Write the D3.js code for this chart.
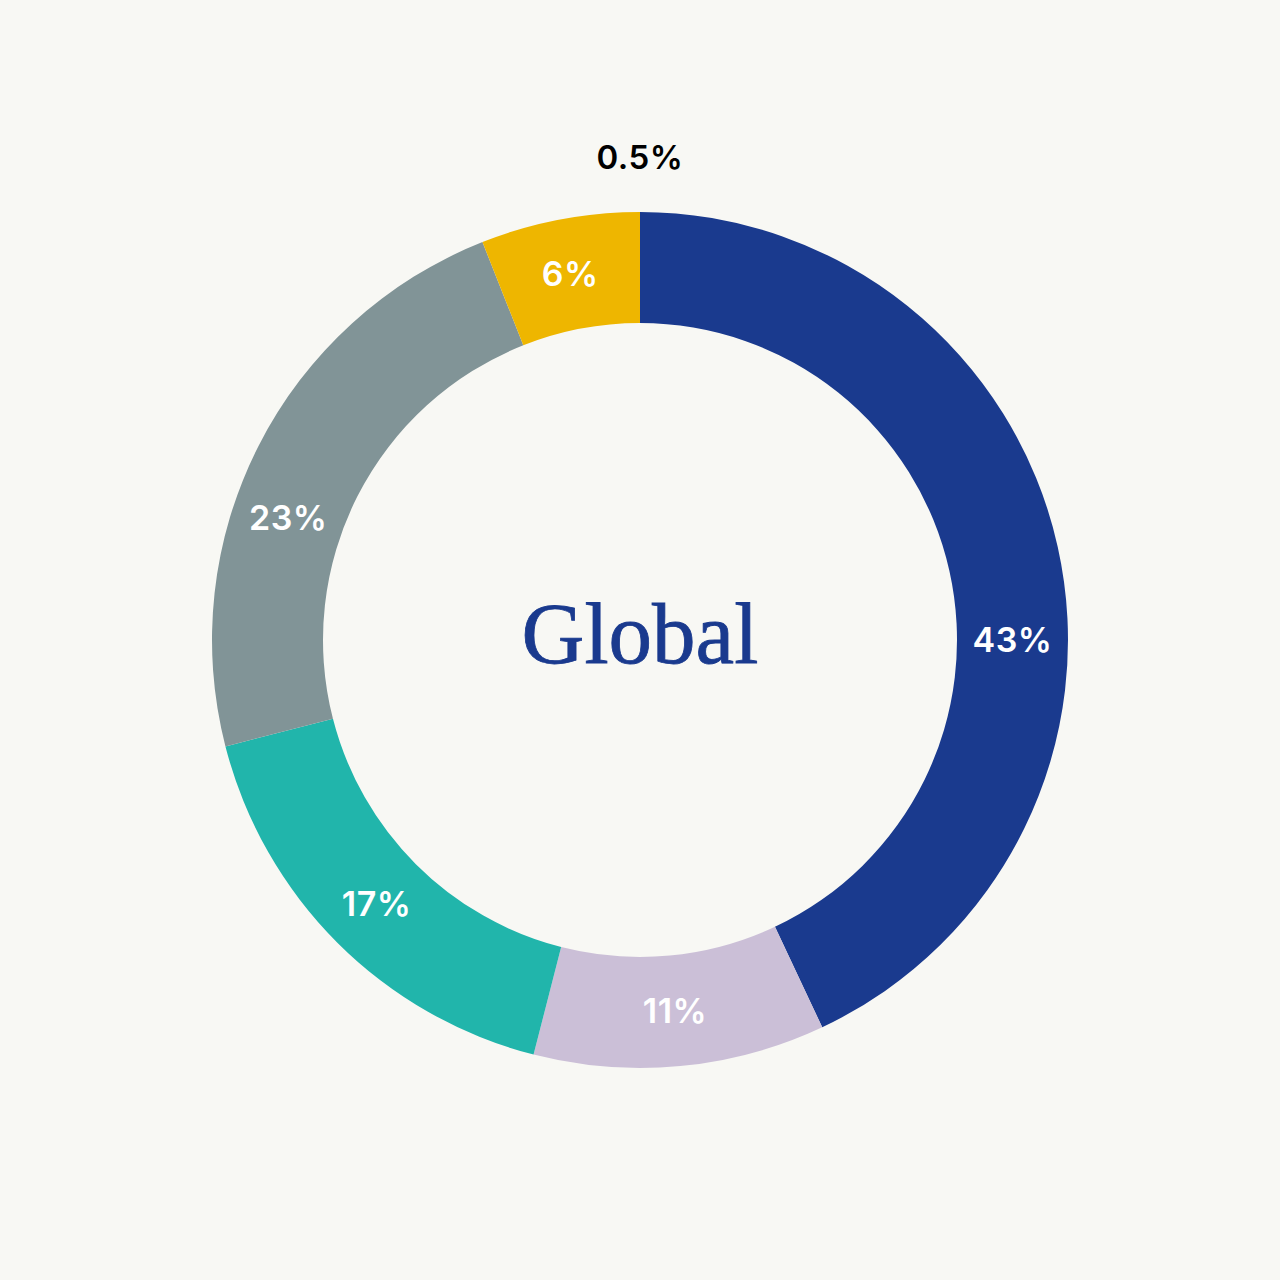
<!DOCTYPE html>
<html>
<head>
<meta charset="utf-8">
<script src="https://cdn.jsdelivr.net/npm/d3@7"></script>
<style>
  html, body { margin: 0; padding: 0; background: #f8f8f4; }
  #chart { width: 1280px; height: 1280px; }
</style>
</head>
<body>
<div id="chart"></div>
<script>
// slices clockwise from 12 o'clock
const segments = ["s1", "s2", "s3", "s4", "s5", "s6"];
const shares = [43, 11, 17, 23, 6, 0.5];
const shareLabels = ["43%", "11%", "17%", "23%", "6%", "0.5%"];
const segmentColors = ["#1a3a8e", "#cbbfd7", "#21b5ab", "#819497", "#eeb600", "#000000"];
const centerTitle = "Global";

const width = 1280,
  height = 1280,
  cx = 640,
  cy = 640,
  outer = 428,
  inner = 317;

const labelFont = "Inter, 'Liberation Sans', Arial, sans-serif";

const svg = d3
  .select("#chart")
  .append("svg")
  .attr("width", width)
  .attr("height", height);

svg.append("rect").attr("width", width).attr("height", height).attr("fill", "#f8f8f4");

const g = svg.append("g").attr("transform", `translate(${cx}, ${cy})`);

const data = segments.map((s, i) => ({
  key: s,
  value: shares[i],
  label: shareLabels[i],
  color: segmentColors[i]
}));

// slivers under 1% are too thin to draw, they only get an outside label
const pie = d3
  .pie()
  .sort(null)
  .value(d => (d.value < 1 ? 0 : d.value));

const arc = d3.arc().innerRadius(inner).outerRadius(outer);
const arcs = pie(data);

g.selectAll("path")
  .data(arcs.filter(d => d.endAngle > d.startAngle))
  .enter()
  .append("path")
  .attr("d", arc)
  .attr("fill", d => d.data.color);

// a couple of labels sit off the centroid in the original
const labelShift = { "43%": 12.6, "23%": -7.8 };
const mid = (inner + outer) / 2;

g.selectAll("text.inside")
  .data(arcs.filter(d => d.endAngle > d.startAngle))
  .enter()
  .append("text")
  .attr("class", "inside")
  .attr("transform", d => {
    const a = (d.startAngle + d.endAngle) / 2 + ((labelShift[d.data.label] || 0) * Math.PI) / 180;
    return `translate(${mid * Math.sin(a)}, ${-mid * Math.cos(a)})`;
  })
  .attr("text-anchor", "middle")
  .attr("dy", "0.36em")
  .attr("font-family", labelFont)
  .attr("font-weight", 600)
  .attr("font-size", "34px")
  .attr("letter-spacing", "0.5px")
  .attr("fill", "#ffffff")
  .text(d => d.data.label);

g.selectAll("text.outside")
  .data(arcs.filter(d => d.endAngle === d.startAngle))
  .enter()
  .append("text")
  .attr("class", "outside")
  .attr("transform", d => {
    const r = outer + 55;
    return `translate(${r * Math.sin(d.startAngle)}, ${-r * Math.cos(d.startAngle)})`;
  })
  .attr("text-anchor", "middle")
  .attr("dy", "0.36em")
  .attr("font-family", labelFont)
  .attr("font-weight", 600)
  .attr("font-size", "33px")
  .attr("letter-spacing", "0.5px")
  .attr("fill", "#000000")
  .text(d => d.data.label);

g.append("text")
  .attr("text-anchor", "middle")
  .attr("y", 23)
  .attr("font-family", "'Liberation Serif', 'Times New Roman', serif")
  .attr("font-size", "87px")
  .attr("stroke", "#1a3a8e")
  .attr("stroke-width", 0.8)
  .attr("fill", "#1a3a8e")
  .text(centerTitle);
</script>
</body>
</html>
